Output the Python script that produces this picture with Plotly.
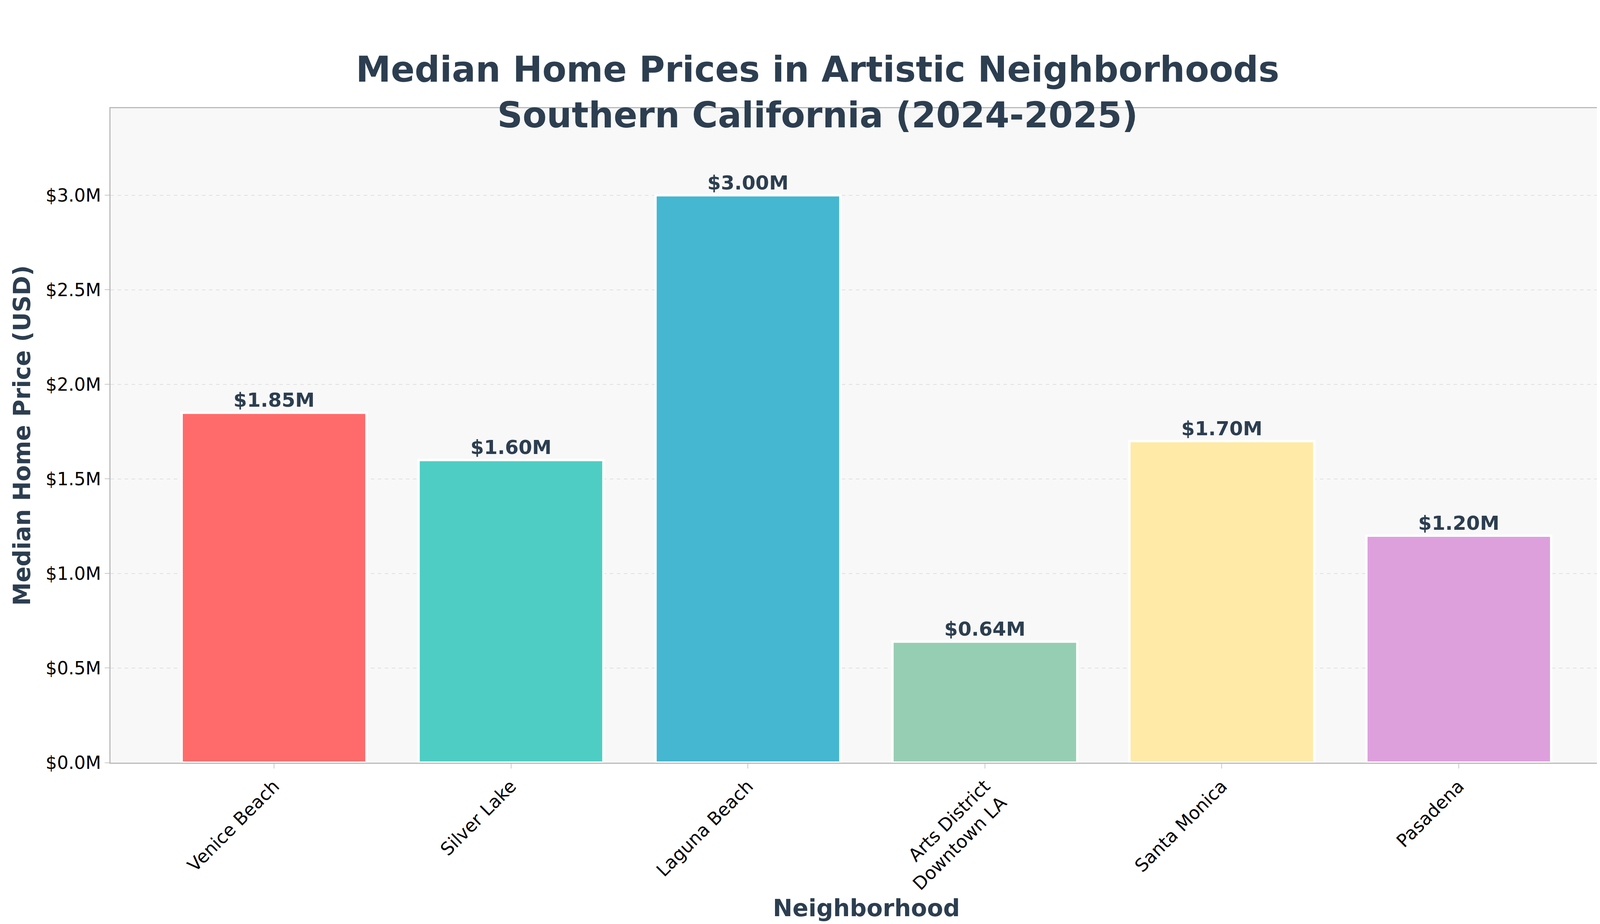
import plotly.graph_objects as go

neighborhoods = ['Venice Beach', 'Silver Lake', 'Laguna Beach', 'Arts District<br>Downtown LA', 'Santa Monica', 'Pasadena']
prices = [1850000, 1600000, 3000000, 640000, 1700000, 1200000]
colors = ['#FF6B6B', '#4ECDC4', '#45B7D1', '#96CEB4', '#FFEAA7', '#DDA0DD']
tick_vals = [0, 500000, 1000000, 1500000, 2000000, 2500000, 3000000]
tick_text = ['$0.0M', '$0.5M', '$1.0M', '$1.5M', '$2.0M', '$2.5M', '$3.0M']

font = 'DejaVu Sans'
dark = '#2C3E50'

fig = go.Figure()
fig.add_trace(go.Bar(
    x=list(range(len(neighborhoods))),
    y=prices,
    width=0.78,
    marker=dict(color=colors, line=dict(color='white', width=6)),
    text=[f'<b>${p / 1e6:.2f}M</b>' for p in prices],
    textposition='outside',
    textfont=dict(family=font, size=50, color=dark),
    cliponaxis=False,
))

fig.update_layout(
    width=4170, height=2365,
    paper_bgcolor='white', plot_bgcolor='#F8F8F8',
    margin=dict(l=275, r=25, t=269, b=421),
    showlegend=False,
    title=dict(
        text='<b>Median Home Prices in Artistic Neighborhoods<br>Southern California (2024-2025)</b>',
        x=0.5, xanchor='center', yref='container', y=0.915, yanchor='bottom',
        font=dict(family=font, size=90, color=dark),
    ),
    xaxis=dict(
        tickvals=list(range(len(neighborhoods))), ticktext=neighborhoods,
        range=[-0.69, 5.69], tickangle=-45, automargin=False,
        tickfont=dict(family=font, size=46, color='black'),
        ticks='outside', ticklen=12, tickcolor='#999',
        showline=True, linecolor='#BBBBBB', linewidth=3, mirror=True,
        showgrid=False,
        title=dict(text='<b>Neighborhood</b>', font=dict(family=font, size=60, color=dark), standoff=10),
    ),
    yaxis=dict(
        range=[0, 3460000], tickvals=tick_vals, ticktext=tick_text, automargin=False,
        tickfont=dict(family=font, size=46, color='black'),
        ticks='outside', ticklen=12, tickcolor='#999',
        showline=True, linecolor='#BBBBBB', linewidth=3, mirror=True,
        showgrid=True, gridcolor='#E0E0E0', griddash='dash', gridwidth=2,
        zeroline=False,
        title=dict(text='<b>Median Home Price (USD)</b>', font=dict(family=font, size=60, color=dark), standoff=20),
    ),
)

fig.write_html('out.html')
